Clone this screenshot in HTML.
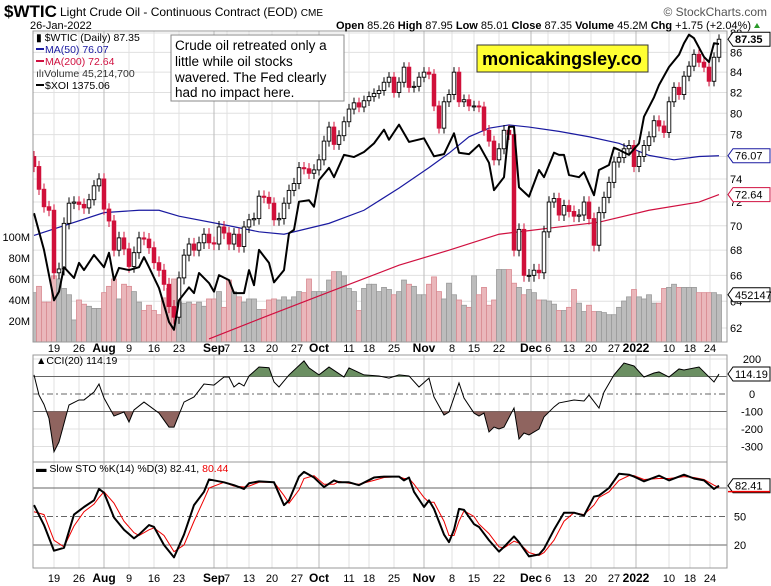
<!DOCTYPE html>
<html><head><meta charset="utf-8">
<style>
html,body{margin:0;padding:0;background:#fff;}
svg{display:block;font-family:"Liberation Sans",sans-serif;}
</style></head>
<body>
<svg id="chart" width="771" height="586" viewBox="0 0 771 586" xmlns="http://www.w3.org/2000/svg">
<defs>
<clipPath id="mainClip"><rect x="33" y="31" width="694" height="311"/></clipPath>
<clipPath id="cciClip"><rect x="33" y="355" width="694" height="107"/></clipPath>
<clipPath id="stoClip"><rect x="33" y="462" width="694" height="106"/></clipPath>
<clipPath id="cciUp"><rect x="33" y="355" width="694" height="21.5"/></clipPath>
<clipPath id="cciDn"><rect x="33" y="411.5" width="694" height="60"/></clipPath>
</defs>
<rect x="0" y="0" width="771" height="586" fill="#fff"/>
<g id="grid"></g>
<g id="marks"></g>
<g id="axes"></g>
<!-- header -->
<text x="4" y="17" font-size="17" font-weight="bold" fill="#000">$WTIC</text>
<text x="60" y="16" font-size="12" fill="#000">Light Crude Oil - Continuous Contract (EOD) <tspan font-size="10">CME</tspan></text>
<text x="767" y="16" font-size="12" fill="#555" text-anchor="end">© StockCharts.com</text>
<text x="30" y="29" font-size="11" fill="#000">26-Jan-2022</text>
<text x="751" y="29" font-size="11" fill="#000" text-anchor="end"><tspan font-weight="bold">Open</tspan> 85.26 <tspan font-weight="bold">High</tspan> 87.95 <tspan font-weight="bold">Low</tspan> 85.01 <tspan font-weight="bold">Close</tspan> 87.35 <tspan font-weight="bold">Volume</tspan> 45.2M <tspan font-weight="bold">Chg</tspan> +1.75 (+2.04%)</text>
<polygon points="754,28 760,28 757,23" fill="#2a9a2a"/>
<!-- legend -->
<g font-size="10.5">
<text x="36" y="41">▮ $WTIC (Daily) 87.35</text>
<rect x="36" y="48" width="8" height="2" fill="#1a1aa0"/>
<text x="45" y="53" fill="#1a1aa0">MA(50) 76.07</text>
<rect x="36" y="60" width="8" height="2" fill="#d01040"/>
<text x="45" y="65" fill="#d01040">MA(200) 72.64</text>
<text x="36" y="77" fill="#333">ılıVolume 45,214,700</text>
<rect x="36" y="84" width="8" height="2" fill="#000"/>
<text x="45" y="89">$XOI 1375.06</text>
</g>
<g>
<rect x="171" y="35" width="173" height="66" fill="#fff" stroke="#888" stroke-width="1"/>
<text font-size="13.5" fill="#000"><tspan x="175" y="50">Crude oil retreated only a</tspan><tspan x="175" y="66">little while oil stocks</tspan><tspan x="175" y="82">wavered. The Fed clearly</tspan><tspan x="175" y="97">had no impact here.</tspan></text>
</g>
<g>
<rect x="477" y="45" width="171" height="27" fill="#ffff33" stroke="#333" stroke-width="1"/>
<text x="562" y="65" font-size="18" font-weight="bold" text-anchor="middle" fill="#000">monicakingsley.co</text>
</g>
<text x="36" y="364" font-size="10.5">▲CCI(20) 114.19</text>
<text x="36" y="472" font-size="10.5">▬ Slow STO %K(14) %D(3) 82.41, <tspan fill="#e00">80.44</tspan></text>
<g id="overlay"></g>
</svg>
<script>
// ---- data ----
const closes=[75.1,73.1,71.6,71.3,66.2,66.5,70.2,71.9,72.0,71.8,71.5,72.2,73.4,74.0,71.4,70.4,68.0,69.0,68.1,66.7,67.8,69.0,68.9,68.2,67.0,66.4,65.3,63.6,62.8,65.8,67.6,68.5,68.0,68.6,69.3,68.6,68.5,69.9,69.4,68.5,69.3,68.3,69.9,70.5,70.6,72.5,72.4,71.9,70.5,70.6,71.9,73.0,73.6,75.0,74.9,74.5,74.8,75.7,77.4,78.7,77.1,77.9,79.2,80.4,81.0,80.6,81.2,81.6,81.9,82.2,83.0,83.5,82.0,83.0,84.5,82.5,82.6,83.5,84.0,83.8,80.7,78.6,81.1,81.8,84.0,81.1,81.3,80.7,80.7,80.6,78.4,77.4,75.7,76.7,78.4,78.0,68.0,69.7,66.0,66.0,66.4,66.2,69.5,72.0,72.3,70.9,71.7,71.2,70.8,70.9,72.0,70.6,68.4,71.1,72.4,73.7,75.5,75.9,76.7,77.0,75.1,76.0,77.0,77.8,79.3,78.8,78.2,81.1,82.5,81.8,83.6,84.6,85.8,85.0,84.5,83.1,85.5,87.35];
const volumes=[47,53,38,38,63,60,51,45,21,40,36,34,32,32,47,53,60,41,55,53,48,38,30,35,30,26,42,51,60,38,37,38,36,38,34,41,41,48,33,59,48,43,38,41,41,31,31,40,41,40,43,40,43,48,47,60,48,48,48,59,67,67,63,51,48,30,51,55,55,48,52,50,45,48,59,55,53,45,45,55,62,48,41,56,45,40,35,33,63,45,52,35,40,69,69,69,56,52,45,50,47,40,40,39,36,30,30,33,50,37,29,35,29,29,28,26,26,33,39,43,50,43,41,45,37,37,51,52,55,52,52,52,52,47,47,47,47,45];
const ma50Day=[0,14,21,25,29,39,45,50,59,66,73,79,83,87,91,95,99,105,111,117,123,128,133,137];
const ma50Val=[69.2,71.1,71.3,71.3,70.8,70.0,69.5,69.3,70.2,71.3,73.2,75.0,76.3,77.8,78.6,78.9,78.7,78.3,77.8,77.2,76.1,75.7,76.0,76.07];
const ma200Day=[35,46,59,73,83,93,99,103,113,123,133,137];
const ma200Val=[61.2,62.8,64.7,66.8,68.0,69.3,69.6,69.8,70.3,71.3,72.0,72.64];
const xoiDay=[0,2,4,5,6,8,9,10,12,14,15,16,17,19,21,22,23,25,27,28,29,31,32,33,35,36,37,39,40,42,43,44,45,47,48,50,51,52,53,55,56,57,59,60,62,64,66,68,70,71,73,75,78,80,82,84,85,87,89,91,92,94,95,96,97,99,101,102,104,105,106,107,109,110,112,113,115,116,117,119,121,122,124,125,127,129,130,131,132,134,135,136,137];
const xoiVal=[1140,1089,1019,1031,1065,1050,1071,1061,1082,1065,1085,1047,1064,1061,1065,1079,1065,1036,989,978,1019,1037,1029,1057,1043,1031,1054,1047,1029,1029,1061,1040,1089,1071,1044,1061,1112,1117,1156,1158,1149,1186,1203,1190,1221,1218,1225,1237,1256,1242,1263,1239,1244,1219,1222,1251,1224,1222,1235,1210,1172,1190,1260,1260,1176,1163,1200,1190,1224,1221,1221,1193,1190,1197,1165,1200,1207,1231,1228,1221,1237,1274,1301,1318,1343,1360,1376,1388,1383,1357,1350,1376,1375.06];
const cciDay=[0,1,2,3,4,5,7,9,10,12,13,14,16,18,19,20,22,25,27,28,30,32,34,36,38,39,40,41,42,43,45,47,48,49,51,54,55,57,59,62,63,66,69,71,73,75,77,79,80,82,83,85,86,88,89,90,91,92,93,94,96,97,98,99,101,102,104,105,108,110,111,113,114,116,118,120,122,124,125,127,129,130,133,134,136,137];
const cciVal=[109,-6,-60,-140,-330,-274,-63,-34,-34,11,57,-23,-126,-103,-160,-91,-46,-109,-189,-189,-46,-17,57,51,97,97,40,63,46,103,154,150,69,40,109,189,149,109,154,97,149,109,103,91,109,103,40,91,-17,-120,-103,63,-23,-109,-126,-109,-217,-189,-200,-189,-80,-257,-223,-234,-200,-131,-74,-51,-34,-40,-6,-80,11,109,177,160,97,120,126,97,143,137,154,126,69,114.19];
const stoDay=[0,2,4,6,8,10,12,13,14,16,18,20,21,23,24,26,28,30,32,34,35,38,40,42,43,45,48,50,51,53,54,56,58,60,61,63,65,68,70,73,74,75,76,78,79,80,82,83,84,85,86,88,89,91,93,94,96,97,99,101,102,104,106,108,110,112,113,115,117,119,120,122,125,127,130,132,134,136,137];
const stoK=[62,41,14,17,52,60,67,79,75,49,36,27,31,41,39,20,7,31,62,76,89,86,83,79,85,87,86,62,67,92,97,91,81,88,86,86,83,91,92,92,88,91,76,60,67,58,31,23,36,58,57,42,39,25,13,18,29,23,8,10,16,36,54,54,51,71,72,80,95,94,92,87,93,88,94,90,88,79,82.41];
const stoD=[55,52,25,18,40,55,63,70,76,64,45,33,30,36,38,30,13,20,45,68,80,86,82,81,82,86,86,72,64,78,90,93,84,84,87,85,84,88,91,92,90,90,84,70,65,65,45,30,30,45,56,50,42,32,18,17,24,22,12,9,12,25,45,54,52,62,70,76,88,93,93,89,90,90,92,91,89,83,80.44];
const priceTicks=[88,86,84,82,80,78,76,74,72,70,68,66,64,62];
const volTicks=[100,80,60,40,20];
const cciTicks=[200,0,-100,-200,-300];
const stoTicks=[50,20];
const dateLabels=["19","26","Aug","9","16","23","Sep","7","13","20","27","Oct","11","18","25","Nov","8","15","22","Dec","6","13","20","27","2022","10","18","24"];
const dateDay=[4,9,14,19,24,29,36,38.6,43,47.6,52.6,57,63,67,72,78,83.6,88,93,99.4,102.8,107,111.4,116,120.4,127,131.2,135.2];
const dateBold=[0,0,1,0,0,0,1,0,0,0,0,1,0,0,0,1,0,0,0,1,0,0,0,0,1,0,0,0];

// ---- scales ----
const NS="http://www.w3.org/2000/svg";
const xI=i=>34+5*i;
const yP=p=>3804.7-842.4*Math.log(p);
const yV=v=>342-v*1.05;
const yX=v=>44+(1375-v)*0.72;
const yC=v=>394-v*0.175;
const yS=v=>564-v*0.95;
function el(tag,attrs,parent){const e=document.createElementNS(NS,tag);for(const k in attrs)e.setAttribute(k,attrs[k]);parent.appendChild(e);return e;}
const grid=document.getElementById('grid'),marks=document.getElementById('marks'),axes=document.getElementById('axes'),overlay=document.getElementById('overlay');

// grids
priceTicks.forEach(p=>{const l=el('line',{x1:33,x2:727,y1:yP(p),y2:yP(p),stroke:'#e0e0e0'},grid);

});
[yC(200),yC(-200),yC(-300)].forEach(y=>{const l=el('line',{x1:33,x2:727,y1:y,y2:y,stroke:'#e0e0e0'},grid);

});
dateDay.forEach((d,k)=>{[[31,342],[355,462],[462,568]].forEach(r=>{const l=el('line',{x1:xI(d),x2:xI(d),y1:r[0],y2:r[1],stroke:dateBold[k]?'#bbb':'#e0e0e0'},grid);

});});

// panels
[[33,31,694,311],[33,355,694,107],[33,462,694,106]].forEach((r,k)=>{const p=el('rect',{x:r[0],y:r[1],width:r[2],height:r[3],fill:'none',stroke:'#999'},axes);

});

// volume
const gMain=el('g',{'clip-path':'url(#mainClip)'},marks);
volumes.forEach((v,i)=>{const up=i===0||closes[i]>=closes[i-1];
const b=el('rect',{x:xI(i)-2.5,y:yV(v),width:5,height:342-yV(v),fill:up?'#bcbcbc':'#eab7bb',stroke:up?'#9a9a9a':'#d98a92','stroke-width':0.8},gMain);

});

function line(days,vals,fx,fy,attrs,parent,name){const pts=days.map((d,k)=>fx(d)+','+fy(vals[k])).join(' ');
const l=el('polyline',Object.assign({points:pts,fill:'none'},attrs),parent);

return l;}
line(ma200Day,ma200Val,xI,yP,{stroke:'#d01040','stroke-width':1.2},gMain,'ma200-line');
line(ma50Day,ma50Val,xI,yP,{stroke:'#1a1aa0','stroke-width':1.2},gMain,'ma50-line');

// candles
closes.forEach((c,i)=>{const o=i===0?76.0:closes[i-1];const dn=c<o;const col=dn?'#d0103a':'#000';
const hi=Math.max(o,c)+0.5,lo=Math.min(o,c)-0.5;
const w=el('line',{x1:xI(i),x2:xI(i),y1:yP(hi),y2:yP(lo),stroke:col,'stroke-width':1},gMain);


const top=yP(Math.max(o,c)),bot=yP(Math.min(o,c));
const b=el('rect',{x:xI(i)-1.8,y:top,width:3.6,height:Math.max(1,bot-top),fill:dn?col:'#fff',stroke:col,'stroke-width':0.9},gMain);

});

line(xoiDay,xoiVal,xI,yX,{stroke:'#000','stroke-width':2,'stroke-linejoin':'round'},gMain,'xoi-line');

// CCI
const gC=el('g',{'clip-path':'url(#cciClip)'},marks);
[[100,'#666',''],[-100,'#666',''],[0,'#666','6,3,2,3']].forEach(r=>{const l=el('line',{x1:33,x2:727,y1:yC(r[0]),y2:yC(r[0]),stroke:r[1],'stroke-dasharray':r[2]},gC);

});
const cpts=cciDay.map((d,k)=>xI(d)+','+yC(cciVal[k]));
const upA=el('polygon',{points:xI(cciDay[0])+','+yC(100)+' '+cpts.join(' ')+' '+xI(cciDay[cciDay.length-1])+','+yC(100),fill:'#6b8f62',stroke:'none','clip-path':'url(#cciUp)'},gC);


const dnA=el('polygon',{points:xI(cciDay[0])+','+yC(-100)+' '+cpts.join(' ')+' '+xI(cciDay[cciDay.length-1])+','+yC(-100),fill:'#8f645f',stroke:'none','clip-path':'url(#cciDn)'},gC);


line(cciDay,cciVal,xI,yC,{stroke:'#000','stroke-width':1},gC,'cci-line');

// STO
const gS=el('g',{'clip-path':'url(#stoClip)'},marks);
[[80,''],[20,''],[50,'6,3,2,3']].forEach(r=>{const l=el('line',{x1:33,x2:727,y1:yS(r[0]),y2:yS(r[0]),stroke:'#666','stroke-dasharray':r[1]},gS);

});
line(stoDay,stoD,xI,yS,{stroke:'#e00','stroke-width':1},gS,'sto-d-line');
line(stoDay,stoK,xI,yS,{stroke:'#000','stroke-width':2,'stroke-linejoin':'round'},gS,'sto-k-line');

// axis labels
function txt(s,x,y,attrs,parent,name){const t=el('text',Object.assign({x:x,y:y,'font-size':11,fill:'#000'},attrs),parent);t.textContent=s;

return t;}
priceTicks.forEach(p=>txt(String(p),730,yP(p)+4,{},axes,'price-tick-label'));
volTicks.forEach(v=>txt(v+'M',30,yV(v)+4,{'text-anchor':'end'},axes,'volume-tick-label'));
cciTicks.forEach(v=>txt(String(v),752,yC(v)+4,{'text-anchor':'middle'},axes,'cci-tick-label'));
stoTicks.forEach(v=>txt(String(v),740,yS(v)+4,{'text-anchor':'middle'},axes,'sto-tick-label'));
dateLabels.forEach((s,k)=>{[352,582].forEach(y=>txt(s,xI(dateDay[k]),y,{'text-anchor':'middle','font-weight':dateBold[k]?'bold':'normal','font-size':dateBold[k]?12:11},axes,'date-tick-label'));});

// value tags
function tag(s,y,col,name){const g=el('g',{},overlay);


el('polygon',{points:`728,${y} 733,${y-7} 770,${y-7} 770,${y+7} 733,${y+7}`,fill:'#fff',stroke:col},g);
const t=el('text',{x:735,y:y+4,'font-size':11,fill:'#000','font-weight':name==='last-price-tag'?'bold':'normal'},g);t.textContent=s;}
tag('87.35',yP(closes[closes.length-1]),'#000','last-price-tag');
tag('76.07',yP(ma50Val[ma50Val.length-1]),'#1a1aa0','ma50-tag');
tag('72.64',yP(ma200Val[ma200Val.length-1]),'#d01040','ma200-tag');
tag('4521470',yV(volumes[volumes.length-1]),'#000','volume-tag');
tag('114.19',yC(cciVal[cciVal.length-1]),'#000','cci-tag');
tag('82.41',yS(stoK[stoK.length-1]),'#000','sto-k-tag');
const rl=el('line',{x1:728,x2:770,y1:yS(stoD[stoD.length-1])+4,y2:yS(stoD[stoD.length-1])+4,stroke:'#e00','stroke-width':1.5},overlay);


</script>
</body></html>
